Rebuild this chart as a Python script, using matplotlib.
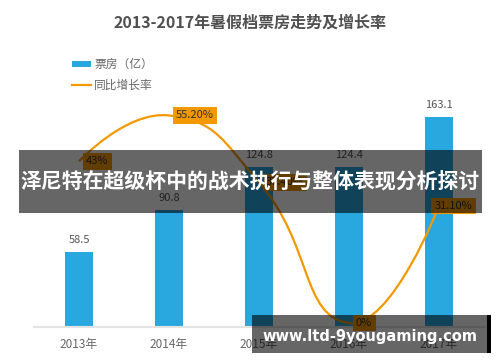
import matplotlib.pyplot as plt
from matplotlib.path import Path
from matplotlib.patches import PathPatch, Rectangle
import numpy as np

plt.rcParams['font.family'] = ['Noto Sans CJK SC', 'DejaVu Sans']

# данные
years = ['2013年', '2014年', '2015年', '2016年', '2017年']
box_office = [58.5, 90.8, 124.8, 124.4, 163.1]
growth = [43, 55.2, 37.4, 0, 31.1]
growth_labels = ['43%', '55.20%', '37.40%', '0%', '31.10%']

blue = '#29a8e0'
orange = '#f39800'

fig = plt.figure(figsize=(5, 3.62), dpi=100)
ax = fig.add_axes([0.068, 0.0967, 0.9, 0.71])
x = np.arange(len(years))

ax.bar(x, box_office, width=0.31, color=blue, zorder=2)
for xi, v in zip(x, box_office):
    ax.annotate(f'{v}', (xi, v), xytext=(0, 5), textcoords='offset points',
                ha='center', va='bottom', fontsize=8, color='#555555')
ax.set_xlim(-0.5, 4.5)
ax.set_ylim(0, 200)
ax.set_xticks(x)
ax.set_xticklabels(years, fontsize=8.5, color='#666666')
ax.tick_params(axis='x', length=0, pad=8)
ax.set_yticks([])
for s in ['top', 'right', 'left']:
    ax.spines[s].set_visible(False)
ax.spines['bottom'].set_color('#e3e3e3')
ax.spines['bottom'].set_linewidth(1.5)

# вторая ось для роста
ax2 = ax.twinx()
ax2.set_ylim(-1.06, 67.3)
ax2.axis('off')

# сглаженная линия (как в echarts, smooth=0.5)
pts = ax2.transData.transform(np.column_stack([x, growth]))
smooth = 0.5
n = len(pts)
cp_prev = [pts[0].copy()]
cp_next = []
for i in range(n):
    p = pts[i]
    if i == 0 or i == n - 1:
        cp_next.append(p.copy())
        if i > 0:
            cp_prev.append(p.copy())
        continue
    v = pts[i + 1] - pts[i - 1]
    l0 = np.hypot(*(p - pts[i - 1]))
    l1 = np.hypot(*(pts[i + 1] - p))
    r = l1 / (l0 + l1)
    cp_next.append(p + v * smooth * r)
    cp_prev.append(p - v * smooth * (1 - r))
verts = [pts[0]]
codes = [Path.MOVETO]
for i in range(1, n):
    verts += [cp_next[i - 1], cp_prev[i], pts[i]]
    codes += [Path.CURVE4] * 3
path = Path(verts, codes)
ax2.add_patch(PathPatch(path, transform=None, facecolor='none',
                        edgecolor=orange, lw=1.6, zorder=3))

for i, (xi, g, lab) in enumerate(zip(x, growth, growth_labels)):
    # последняя подпись сдвинута, чтобы не вылезать за край
    if i == n - 1:
        kw = dict(xytext=(10.5, 0), ha='center')
    else:
        kw = dict(xytext=(5, 0), ha='left')
    ax2.annotate(lab, (xi, g), textcoords='offset points', va='center',
                 fontsize=8, color='#333333', zorder=5,
                 bbox=dict(boxstyle='square,pad=0.3', fc=orange, ec='none'), **kw)

# заголовок и легенда
fig.text(0.5, 1 - 23 / 362, '2013-2017年暑假档票房走势及增长率', ha='center', va='center',
         fontsize=11.5, fontweight='bold', color='#505050')
fig.patches.append(Rectangle((72 / 500, 1 - 67 / 362), 19 / 500, 6 / 362,
                             transform=fig.transFigure, fc=blue, lw=0))
fig.text(94 / 500, 1 - 64 / 362, '票房（亿）', ha='left', va='center', fontsize=8.5, color='#666666')
fig.lines.append(plt.Line2D([72 / 500, 91 / 500], [1 - 85 / 362] * 2,
                            transform=fig.transFigure, color=orange, lw=1.6))
fig.text(94 / 500, 1 - 85 / 362, '同比增长率', ha='left', va='center', fontsize=8.5, color='#666666')

# баннер поверх
fig.patches.append(Rectangle((19 / 500, 1 - 213 / 362), 463 / 500, 63 / 362,
                             transform=fig.transFigure, fc='black', lw=0, alpha=0.6, zorder=10))
fig.text(250 / 500, 1 - 182 / 362, '泽尼特在超级杯中的战术执行与整体表现分析探讨',
         ha='center', va='center', fontsize=15, fontweight='bold', color='white', zorder=11)

# водяной знак
fig.patches.append(Rectangle((252 / 500, 1 - 353 / 362), 235 / 500, 38 / 362,
                             transform=fig.transFigure, fc='black', lw=0, alpha=0.6, zorder=10))
fig.patches.append(Rectangle((487 / 500, 1 - 353 / 362), 4 / 500, 38 / 362,
                             transform=fig.transFigure, fc='black', lw=0, zorder=10))
fig.text(370 / 500, 1 - 337 / 362, 'www.ltd-9yougaming.com', ha='center', va='center',
         fontsize=10.5, fontweight='bold', color='white', zorder=11, family='DejaVu Sans')

fig.savefig('out.png', dpi=100)
plt.close(fig)
